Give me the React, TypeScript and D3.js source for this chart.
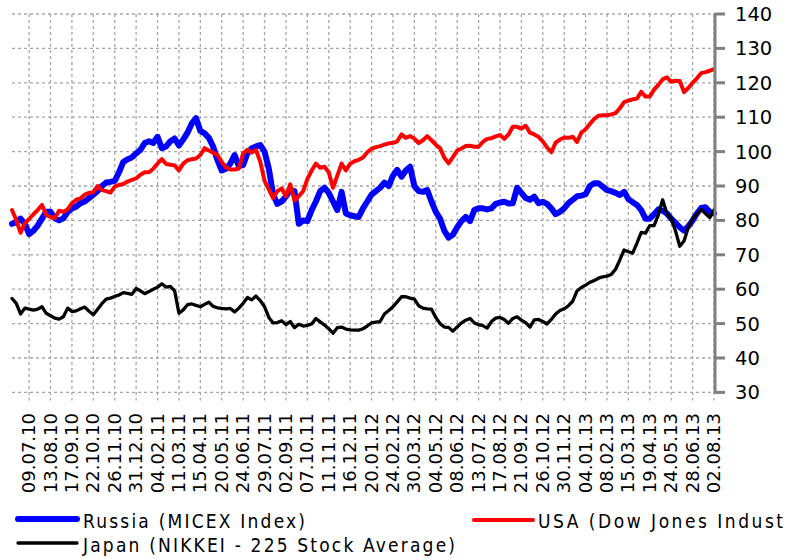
import * as d3 from "d3";

const dateLabels = [
  "09.07.10", "13.08.10", "17.09.10", "22.10.10", "26.11.10", "31.12.10", "04.02.11",
  "11.03.11", "15.04.11", "20.05.11", "24.06.11", "29.07.11", "02.09.11", "07.10.11",
  "11.11.11", "16.12.11", "20.01.12", "24.02.12", "30.03.12", "04.05.12", "08.06.12",
  "13.07.12", "17.08.12", "21.09.12", "26.10.12", "30.11.12", "04.01.13", "08.02.13",
  "15.03.13", "19.04.13", "24.05.13", "28.06.13", "02.08.13",
];

// weekly values, first week is 4 weeks before the first label
const russia = [
  79.0, 79.5, 80.5, 79.0, 76.0, 77.0, 78.5, 80.5, 82.5, 82.5,
  80.6, 80.0, 80.6, 82.5, 83.5, 84.0, 85.0, 85.5, 86.5, 87.5,
  88.5, 90.0, 91.0, 91.2, 91.5, 94.0, 97.0, 97.8, 98.3, 99.5,
  100.5, 102.5, 103.0, 102.5, 104.3, 101.0, 101.5, 103.0, 103.8, 101.8,
  103.5, 105.5, 108.2, 109.7, 106.0, 105.3, 104.0, 101.4, 97.5, 94.5,
  95.0, 96.5, 99.0, 95.8, 96.1, 99.5, 101.0, 101.5, 101.9, 100.0,
  95.0, 87.5, 84.8, 85.5, 87.0, 88.8, 88.5, 79.0, 80.0, 79.8,
  83.0, 85.5, 88.5, 89.5, 88.0, 85.5, 83.0, 88.3, 82.0, 81.5,
  81.2, 81.0, 83.5, 85.5, 87.5, 88.5, 89.5, 91.0, 90.0, 93.0,
  94.7, 92.7, 94.5, 95.6, 90.0, 88.5, 88.3, 88.8, 85.5, 82.5,
  80.5, 77.0, 75.0, 75.8, 78.0, 79.8, 81.0, 79.8, 83.0, 83.5,
  83.5, 83.2, 83.5, 84.8, 85.2, 85.4, 84.9, 85.0, 89.5, 88.0,
  86.5, 86.0, 86.9, 85.0, 85.4, 84.8, 83.5, 81.8, 82.5, 83.5,
  85.0, 86.0, 87.0, 87.2, 87.6, 90.0, 90.8, 90.8, 89.8, 88.8,
  88.5, 88.0, 87.4, 88.3, 86.2, 85.3, 84.5, 83.0, 80.5, 80.5,
  81.8, 83.2, 82.8, 82.0, 80.5, 79.3, 78.0, 77.0, 78.3, 80.0,
  82.0, 83.6, 83.8, 82.5, 82.0,
];

const usa = [
  83.0, 80.1, 76.4, 79.2, 80.4, 81.8, 83.0, 84.5, 81.6, 81.0,
  80.6, 82.8, 82.5, 83.2, 85.0, 86.0, 86.4, 87.5, 88.0, 88.2,
  90.0, 88.8, 88.5, 88.1, 89.8, 90.3, 90.6, 91.3, 91.8, 92.2,
  93.3, 94.0, 94.0, 95.0, 96.5, 97.8, 96.4, 96.2, 96.0, 94.5,
  96.5, 97.5, 97.8, 98.0, 99.0, 101.0, 100.3, 99.7, 99.0, 97.0,
  95.4, 94.8, 94.8, 95.1, 99.5, 100.5, 99.7, 100.5, 97.0, 91.5,
  89.0, 86.5, 88.5, 89.3, 87.0, 90.5, 85.8, 87.0, 88.5, 92.0,
  94.5, 96.5, 95.3, 95.6, 94.0, 89.5, 93.0, 96.5, 94.5, 96.5,
  97.2, 97.6, 98.3, 99.8, 100.8, 101.3, 101.6, 102.0, 102.4, 102.5,
  103.0, 105.0, 104.0, 104.5, 103.8, 102.5, 103.3, 104.5, 103.3, 102.0,
  101.0, 98.2, 96.6, 98.4, 100.3, 100.9, 101.6, 101.7, 101.4, 101.4,
  102.8, 103.7, 103.9, 104.4, 104.8, 103.7, 105.0, 107.2, 107.2, 106.7,
  107.5, 105.5, 105.0, 104.3, 103.0, 101.2, 99.8, 102.6, 103.5, 104.1,
  104.0, 104.3, 102.8, 105.5, 106.5, 108.0, 109.5, 110.4, 110.6, 110.6,
  110.8, 111.2, 112.6, 114.4, 114.8, 115.2, 115.4, 117.4, 116.0, 116.0,
  118.0, 119.4, 121.0, 121.6, 120.3, 120.6, 120.5, 117.3, 118.5, 120.0,
  121.3, 122.8, 123.1, 123.5, 124.0,
];

const japan = [
  57.3, 55.9, 52.8, 54.5, 54.2, 53.9, 54.2, 54.9, 53.0, 52.3,
  51.6, 51.3, 52.0, 54.5, 53.5, 53.7, 54.3, 54.8, 53.6, 52.6,
  54.2, 55.8, 57.1, 57.4, 57.9, 58.3, 59.0, 58.8, 58.5, 60.2,
  59.5, 58.7, 59.3, 60.0, 60.6, 61.6, 60.6, 60.8, 59.5, 53.0,
  54.0, 55.5, 55.7, 55.3, 54.9, 55.6, 56.2, 55.0, 54.6, 54.4,
  54.3, 54.4, 53.4, 54.5, 55.9, 57.6, 56.9, 58.0, 56.7, 54.9,
  51.8, 50.2, 50.3, 50.8, 49.7, 50.6, 48.8, 49.8, 49.3, 49.5,
  49.9, 51.5, 50.5, 49.6, 48.5, 47.2, 48.8, 49.0, 48.4, 48.2,
  48.1, 48.1, 48.5, 49.3, 50.2, 50.4, 50.6, 52.8, 53.8, 54.9,
  56.3, 57.8, 57.8, 57.4, 57.1, 55.2, 54.5, 54.3, 54.2, 51.8,
  50.0, 49.0, 48.9, 47.8, 49.0, 50.2, 51.0, 51.5, 50.2, 49.7,
  49.4, 48.7, 50.6, 51.6, 51.8, 51.2, 50.1, 51.5, 52.0, 51.0,
  50.3, 49.0, 51.1, 51.2, 50.6, 49.9, 51.2, 52.8, 53.8, 54.3,
  55.2, 56.5, 59.5, 60.5, 61.2, 62.0, 62.5, 63.2, 63.6, 63.8,
  64.3, 65.8, 68.5, 71.4, 70.9, 70.5, 73.4, 76.5, 76.3, 78.5,
  78.5, 81.6, 86.0, 82.0, 80.5, 77.0, 72.5, 74.0, 78.0, 80.5,
  81.8, 83.2, 82.0, 80.8, 83.0,
];

const yTicks = [30, 40, 50, 60, 70, 80, 90, 100, 110, 120, 130, 140];

const seriesList = [
  {name: "Russia (MICEX Index)", values: russia, color: "#0000ff", width: 6},
  {name: "USA (Dow Jones Indust", values: usa, color: "#ff0000", width: 4},
  {name: "Japan (NIKKEI - 225  Stock  Average)", values: japan, color: "#000000", width: 3.3},
];

export default function App() {
  const width = 798;
  const height = 559;
  const plot = {left: 12, right: 714, top: 14, bottom: 392.4};

  const x = d3.scaleLinear().domain([0, russia.length - 1]).range([plot.left, plot.right]);
  const y = d3.scaleLinear().domain([30, 140]).range([plot.bottom, plot.top]);

  const line = d3.line<number>()
    .x((d, i) => x(i))
    .y((d) => y(d));

  const labelIdx = dateLabels.map((_, k) => 4 + 5 * k);
  const grid = "#a6a6a6";
  const font = "'DejaVu Sans', sans-serif";

  // legend entries: [line x1, line x2, line y, text x, text baseline, text length]
  const legend = [
    {s: seriesList[0], lx: 18, ly: 519, tx: 83, ty: 528, len: 222},
    {s: seriesList[1], lx: 474, ly: 520, tx: 538, ty: 528, len: 245},
    {s: seriesList[2], lx: 18, ly: 543, tx: 83, ty: 552, len: 372},
  ];

  return (
    <svg width={width} height={height}
         style={{position: "absolute", left: 0, top: 0, background: "#fff"}}>
      {/* grid */}
      {yTicks.map((t) => (
        <line key={"h" + t} x1={plot.left} x2={plot.right} y1={y(t)} y2={y(t)}
              stroke={grid} strokeWidth={1.3} strokeDasharray="3,3"/>
      ))}
      {labelIdx.map((i) => (
        <line key={"v" + i} x1={x(i)} x2={x(i)} y1={plot.top} y2={plot.bottom + 8}
              stroke={grid} strokeWidth={1.3} strokeDasharray="3,3"/>
      ))}

      {/* lines */}
      {seriesList.map((s) => (
        <path key={s.name} d={line(s.values) || ""} fill="none" stroke={s.color}
              strokeWidth={s.width} strokeLinejoin="round" strokeLinecap="round"/>
      ))}

      {/* right axis */}
      <line x1={plot.right + 1} x2={plot.right + 1} y1={plot.top - 1} y2={plot.bottom + 1}
            stroke="#808080" strokeWidth={3}/>
      {yTicks.map((t) => (
        <g key={"t" + t}>
          <line x1={plot.right + 1} x2={plot.right + 11} y1={y(t)} y2={y(t)}
                stroke="#808080" strokeWidth={3}/>
          <text x={plot.right + 21} y={y(t)} dy="0.36em" fontFamily={font} fontSize={19.5}
                fill="#000">{t}</text>
        </g>
      ))}

      {/* x labels */}
      {dateLabels.map((lab, k) => (
        <text key={lab} transform={`translate(${x(labelIdx[k]) + 6},${413}) rotate(-90)`}
              textAnchor="end" fontFamily={font} fontSize={18} fill="#000">{lab}</text>
      ))}

      {/* legend */}
      <g fontFamily="'DejaVu Sans Condensed', 'Liberation Sans Narrow', sans-serif" fontSize={19}>
        {legend.map((l) => (
          <g key={l.s.name}>
            <line x1={l.lx} x2={l.lx + 59} y1={l.ly} y2={l.ly} stroke={l.s.color}
                  strokeWidth={l.s.width} strokeLinecap="round"/>
            <text x={l.tx} y={l.ty} textLength={l.len} lengthAdjust="spacing">{l.s.name}</text>
          </g>
        ))}
      </g>
    </svg>
  );
}
